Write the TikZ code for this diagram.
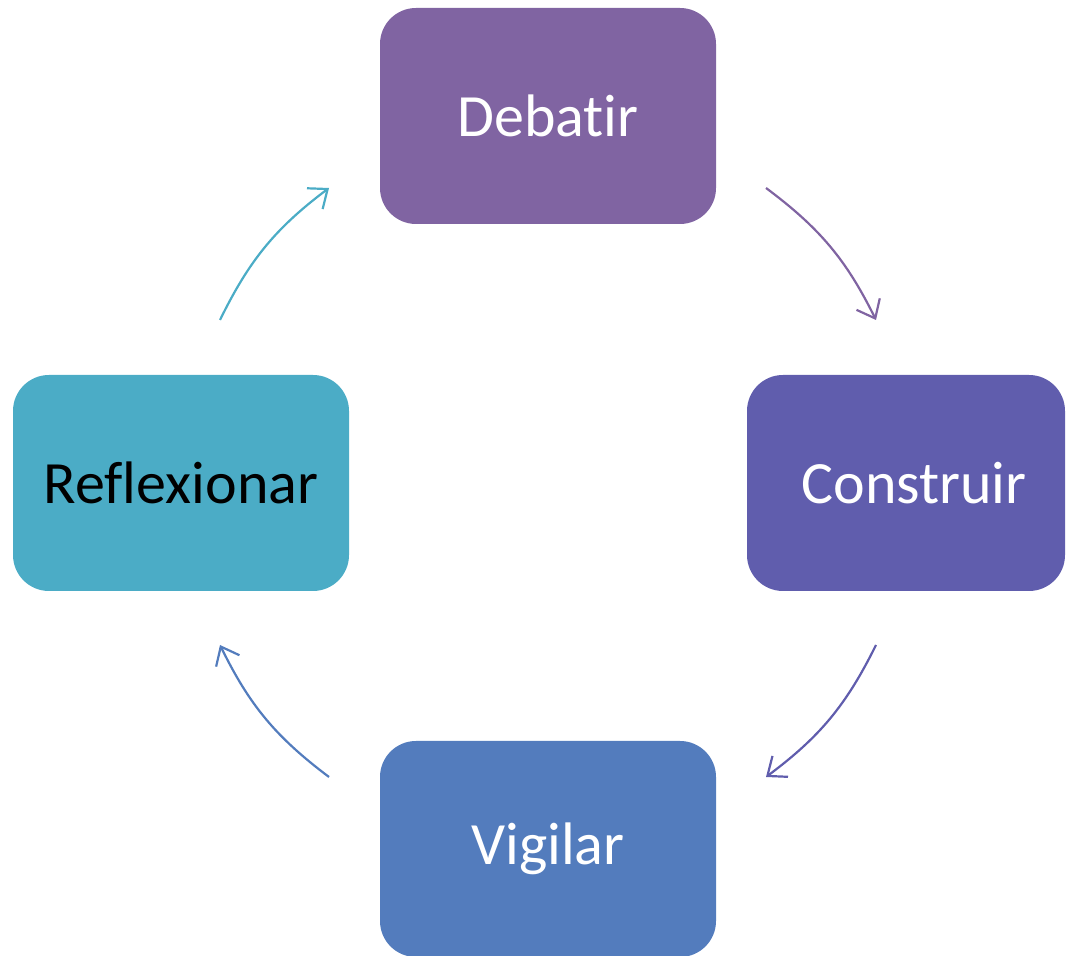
\documentclass[tikz,border=0pt]{standalone}
\usepackage{fontspec}
\setmainfont[Ligatures={NoCommon}]{Carlito}
\usetikzlibrary{arrows.meta}
\definecolor{cdeb}{HTML}{8064A2}
\definecolor{ccon}{HTML}{605DAD}
\definecolor{cvig}{HTML}{537CBD}
\definecolor{cref}{HTML}{4BACC6}
\tikzset{
  stepbox/.style={rectangle, rounded corners=36pt, minimum width=336pt, minimum height=216pt,
    inner sep=0pt, font=\fontsize{60}{72}\selectfont, text=white},
  cyc/.style={line width=2.2pt, -{Straight Barb[length=16pt,width=26pt,line width=2.2pt]}, bend left=13.5}
}
\begin{document}
\begin{tikzpicture}[x=1pt,y=1pt]
\useasboundingbox (0,0) rectangle (1066,956);
\node[stepbox, fill=cdeb] (deb) at (548,840) {Debatir};
\node[stepbox, fill=ccon, minimum width=318pt] (con) at (906,473) {\hspace*{16pt}Construir};
\node[stepbox, fill=cvig] (vig) at (548,107) {Vigilar};
\node[stepbox, fill=cref, text=black] (ref) at (181,473) {Reflexionar};
\coordinate (a1s) at (766,768);
\coordinate (a1e) at (876,636);
\coordinate (a2s) at (876,311);
\coordinate (a2e) at (766,179);
\coordinate (a3s) at (329,179);
\coordinate (a3e) at (220,311);
\coordinate (a4s) at (220,636);
\coordinate (a4e) at (329,768);
\draw[cyc, draw=cdeb] (a1s) to (a1e);
\draw[cyc, draw=ccon] (a2s) to (a2e);
\draw[cyc, draw=cvig] (a3s) to (a3e);
\draw[cyc, draw=cref] (a4s) to (a4e);
\end{tikzpicture}
\end{document}
